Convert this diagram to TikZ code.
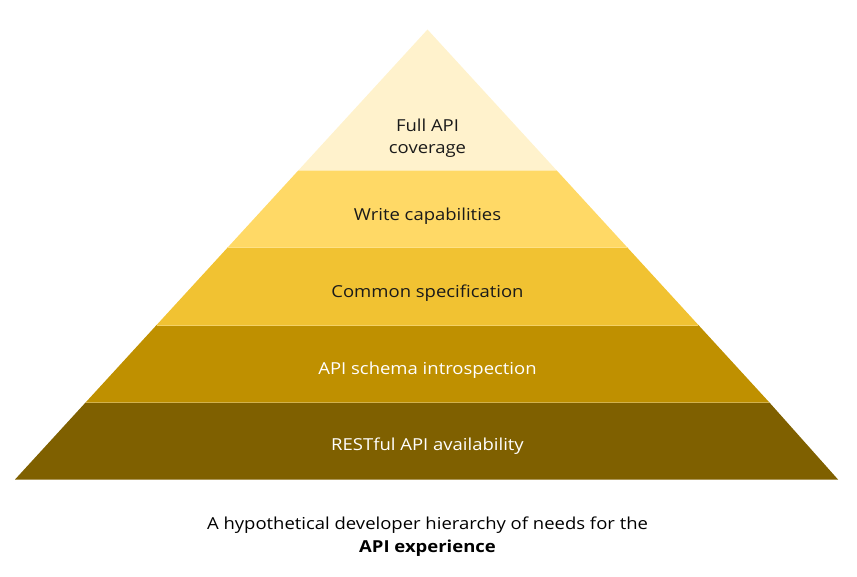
\documentclass[tikz,border=0pt]{standalone}
\usepackage{fontspec}
\setmainfont{Open Sans}[FakeStretch=1.12]
\definecolor{lvlA}{HTML}{FFF2CC}
\definecolor{lvlB}{HTML}{FFD966}
\definecolor{lvlC}{HTML}{F1C232}
\definecolor{lvlD}{HTML}{BF9000}
\definecolor{lvlE}{HTML}{7F6000}
\definecolor{darktext}{HTML}{1A1A1A}
\begin{document}
\begin{tikzpicture}[x=1pt,y=-1pt,
  lvltext/.style={font=\fontsize{16.5}{22}\selectfont, align=center, inner sep=0pt},
  captext/.style={font=\fontsize{16.5}{23}\selectfont, align=center, inner sep=0pt, text=black},
  seam/.style={line width=0.7pt}]
\useasboundingbox (0,0) rectangle (857,577);
% apex (427.5,29.5), base y 479.5 from x=15 to 838; slope 0.91667
\def\L#1{427.5-(#1-29.5)*0.91667}
\def\R#1{427.5+(#1-29.5)*0.91667}
\fill[lvlE] ({\L{402.3}},402.3) -- ({\R{402.3}},402.3) -- (838,479.5) -- (15,479.5) -- cycle;
\fill[lvlD] ({\L{325}},325) -- ({\R{325}},325) -- ({\R{402.3}},402.3) -- ({\L{402.3}},402.3) -- cycle;
\fill[lvlC] ({\L{247.8}},247.8) -- ({\R{247.8}},247.8) -- ({\R{325}},325) -- ({\L{325}},325) -- cycle;
\fill[lvlB] ({\L{170.5}},170.5) -- ({\R{170.5}},170.5) -- ({\R{247.8}},247.8) -- ({\L{247.8}},247.8) -- cycle;
\fill[lvlA] (427.5,29.5) -- ({\R{170.5}},170.5) -- ({\L{170.5}},170.5) -- cycle;
\draw[seam, draw=lvlD!70!white] ({\L{402.3}},402.3) -- ({\R{402.3}},402.3);
\draw[seam, draw=lvlC!75!white] ({\L{325}},325) -- ({\R{325}},325);
\draw[seam, draw=lvlB!80!white] ({\L{247.8}},247.8) -- ({\R{247.8}},247.8);
\node[lvltext, text=darktext] (full) at (427.5,138.3) {Full API\\coverage};
\node[lvltext, text=darktext] (write) at (427.5,216.3) {Write capabilities};
\node[lvltext, text=darktext] (common) at (427.5,293.3) {Common specification};
\node[lvltext, text=white] (schema) at (427.5,369.8) {API schema introspection};
\node[lvltext, text=white] (rest) at (427.5,446.3) {RESTful API availability};
\node[captext] (cap) at (427.5,537) {A hypothetical developer hierarchy of needs for the\\\textbf{API experience}};
\end{tikzpicture}
\end{document}
